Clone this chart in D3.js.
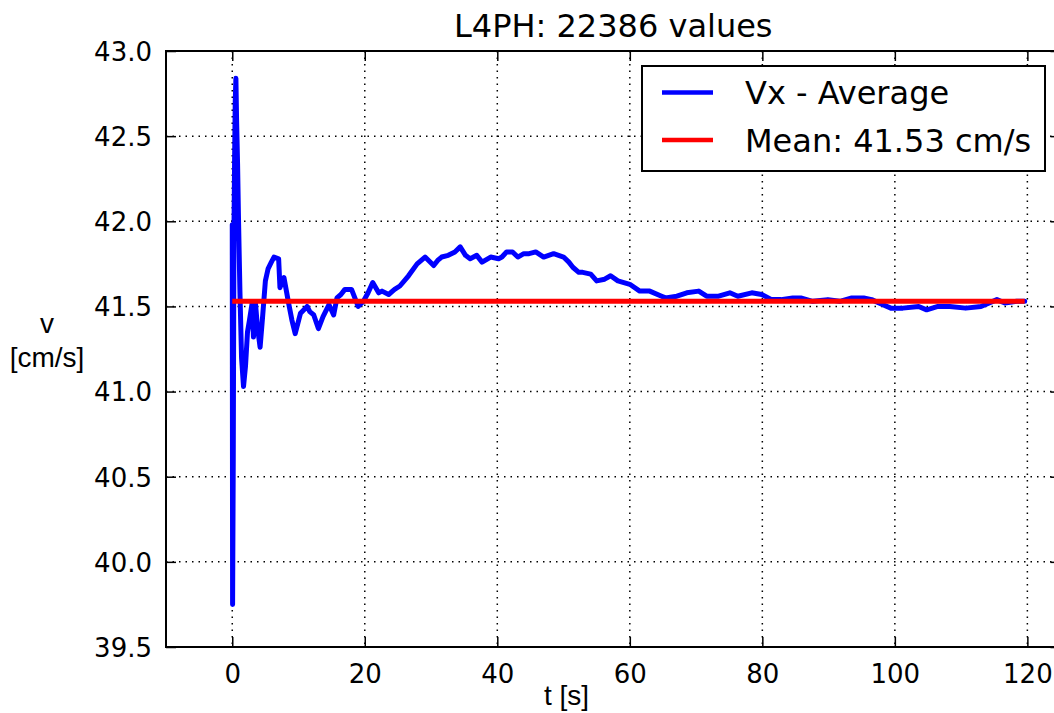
<!DOCTYPE html>
<html>
<head>
<meta charset="utf-8">
<script src="https://cdn.jsdelivr.net/npm/d3@7"></script>
<style>
  html, body { margin: 0; padding: 0; background: #fff; }
  svg { display: block; }
</style>
</head>
<body>
<svg id="chart" width="1054" height="713"></svg>
<script>
// Running average of Vx over time (seconds, cm/s)
const timeS = [
  0, 0.05, 0.15, 0.25, 0.35, 0.45, 0.55, 0.65, 0.8, 0.95,
  1.15, 1.4, 1.7, 2.0, 2.3, 2.6, 3.0, 3.2, 3.5, 3.8,
  4.2, 4.6, 5.0, 5.4, 5.9, 6.3, 7.0, 7.2, 7.8, 8.5,
  9.0, 9.5, 10.3, 11.3, 11.7, 12.3, 13.0, 13.7, 14.6, 15.3,
  15.8, 16.4, 17.0, 18.0, 18.5, 19.0, 19.8, 20.5, 21.2, 22.1,
  22.6, 23.6, 24.5, 25.3, 26.6, 27.9, 29.1, 30.4, 31.0, 31.6,
  32.6, 33.6, 34.4, 35.2, 35.9, 36.9, 37.7, 39.0, 40.2, 40.7,
  41.4, 42.3, 43.1, 44.0, 44.8, 45.8, 47.0, 48.5, 50.0, 50.8,
  51.4, 52.3, 52.9, 54.1, 55.0, 56.2, 57.1, 58.2, 60.0, 61.5,
  63.0, 64.8, 65.4, 67.1, 68.6, 70.4, 71.6, 73.4, 75.1, 76.3,
  78.4, 79.9, 81.4, 82.8, 84.6, 85.8, 87.6, 89.9, 91.7, 93.5,
  95.3, 96.5, 98.2, 99.4, 101.2, 103.6, 104.8, 106.5, 108.3, 110.7,
  113.0, 115.4, 116.6, 118.4, 119.6
];
const vxAverage = [
  41.98, 39.75, 40.6, 41.9, 42.35, 42.7, 42.84, 42.6, 42.34, 42.0,
  41.6, 41.2, 41.03, 41.15, 41.35, 41.42, 41.52, 41.32, 41.52, 41.38,
  41.26, 41.45, 41.65, 41.72, 41.76, 41.79, 41.78, 41.61, 41.67, 41.52,
  41.42, 41.34, 41.46, 41.50, 41.47, 41.45, 41.37, 41.44, 41.51, 41.45,
  41.55, 41.57, 41.60, 41.60, 41.55, 41.50, 41.53, 41.58, 41.64, 41.58,
  41.59, 41.57, 41.60, 41.62, 41.68, 41.75, 41.79, 41.74, 41.77, 41.79,
  41.80, 41.82, 41.85, 41.80, 41.78, 41.80, 41.76, 41.79, 41.78, 41.79,
  41.82, 41.82, 41.79, 41.81, 41.81, 41.82, 41.79, 41.81, 41.79, 41.76,
  41.73, 41.70, 41.70, 41.69, 41.65, 41.66, 41.68, 41.65, 41.63, 41.59,
  41.59, 41.56, 41.55, 41.56, 41.58, 41.59, 41.56, 41.56, 41.58, 41.56,
  41.58, 41.57, 41.54, 41.54, 41.55, 41.55, 41.53, 41.54, 41.53, 41.55,
  41.55, 41.54, 41.51, 41.49, 41.49, 41.50, 41.48, 41.50, 41.50, 41.49,
  41.50, 41.54, 41.52, 41.53, 41.53
];
const meanValue = 41.53;
const meanSpan = [0, 119.6];

const xTicks = [0, 20, 40, 60, 80, 100, 120];
const yTicks = [39.5, 40.0, 40.5, 41.0, 41.5, 42.0, 42.5, 43.0];
const xDomain = [-10, 125];
const yDomain = [39.5, 43.0];

const titleText = "L4PH: 22386 values";
const xLabel = "t [s]";
const yLabelLines = ["v", "[cm/s]"];
const legendLabels = ["Vx - Average", "Mean: " + meanValue.toFixed(2) + " cm/s"];
const legendColors = ["#0000ff", "#ff0000"];

const svg = d3.select("#chart");
const margin = { left: 166, top: 51 };
const plotW = 1060.5 - margin.left;
const plotH = 647 - margin.top;

const x = d3.scaleLinear().domain(xDomain).range([margin.left, margin.left + plotW]);
const y = d3.scaleLinear().domain(yDomain).range([margin.top + plotH, margin.top]);

const tickFont = "'DejaVu Sans', sans-serif";

// dotted grid
const grid = svg.append("g").attr("stroke", "#000").attr("stroke-width", 1.5)
  .attr("stroke-dasharray", "1.5 5");
grid.selectAll("line.vx").data(xTicks).join("line")
  .attr("x1", d => x(d)).attr("x2", d => x(d))
  .attr("y1", margin.top).attr("y2", margin.top + plotH);
grid.selectAll("line.hy").data(yTicks.filter(d => d > yDomain[0] && d < yDomain[1])).join("line")
  .attr("class", "hy")
  .attr("x1", margin.left).attr("x2", margin.left + plotW)
  .attr("y1", d => y(d)).attr("y2", d => y(d));

// data lines
const line = d3.line().x((d, i) => x(timeS[i])).y(d => y(d));
svg.append("path")
  .datum(vxAverage)
  .attr("d", line)
  .attr("fill", "none")
  .attr("stroke", legendColors[0])
  .attr("stroke-width", 5)
  .attr("stroke-linejoin", "round")
  .attr("stroke-linecap", "round");

svg.append("line")
  .attr("x1", x(meanSpan[0])).attr("x2", x(meanSpan[1]))
  .attr("y1", y(meanValue)).attr("y2", y(meanValue))
  .attr("stroke", legendColors[1])
  .attr("stroke-width", 5);

// axes with inward ticks
const xAxisBottom = d3.axisBottom(x).tickValues(xTicks).tickSizeInner(-10).tickSizeOuter(0)
  .tickPadding(16).tickFormat(d3.format("d"));
const gxb = svg.append("g").attr("transform", `translate(0,${margin.top + plotH})`).call(xAxisBottom);
const xAxisTop = d3.axisTop(x).tickValues(xTicks).tickSizeInner(-10).tickSizeOuter(0).tickFormat("");
const gxt = svg.append("g").attr("transform", `translate(0,${margin.top})`).call(xAxisTop);
const yAxisLeft = d3.axisLeft(y).tickValues(yTicks).tickSizeInner(-10).tickSizeOuter(0)
  .tickPadding(14).tickFormat(d3.format(".1f"));
const gyl = svg.append("g").attr("transform", `translate(${margin.left},0)`).call(yAxisLeft);
const yAxisRight = d3.axisRight(y).tickValues(yTicks).tickSizeInner(-10).tickSizeOuter(0).tickFormat("");
const gyr = svg.append("g").attr("transform", `translate(${margin.left + plotW},0)`).call(yAxisRight);

[gxb, gxt, gyl, gyr].forEach(g => {
  g.select(".domain").remove();
  g.selectAll(".tick line").attr("stroke", "#000").attr("stroke-width", 1.5);
  g.selectAll(".tick text").attr("fill", "#000").attr("font-family", tickFont).attr("font-size", 26);
});
gxb.selectAll(".tick text").attr("dy", "0.78em");
gyl.selectAll(".tick text").attr("dy", "0.36em");

// frame
svg.append("rect")
  .attr("x", margin.left).attr("y", margin.top)
  .attr("width", plotW).attr("height", plotH)
  .attr("fill", "none").attr("stroke", "#000").attr("stroke-width", 2);

// title and labels
svg.append("text")
  .attr("x", margin.left + plotW / 2).attr("y", 37)
  .attr("text-anchor", "middle")
  .attr("font-family", tickFont).attr("font-size", 32)
  .text(titleText);

svg.append("text")
  .attr("x", 566.5).attr("y", 705)
  .attr("text-anchor", "middle")
  .attr("font-family", "'Liberation Sans', Arial, sans-serif").attr("font-size", 28)
  .text(xLabel);

svg.append("text")
  .attr("text-anchor", "middle")
  .attr("font-family", "'Liberation Sans', Arial, sans-serif").attr("font-size", 28)
  .selectAll("tspan").data(yLabelLines).join("tspan")
  .attr("x", 47).attr("y", (d, i) => 333 + i * 34)
  .text(d => d);

// legend
const legend = svg.append("g");
legend.append("rect")
  .attr("x", 642).attr("y", 66).attr("width", 403).attr("height", 105)
  .attr("fill", "#fff").attr("stroke", "#000").attr("stroke-width", 2);
const items = legend.selectAll("g.item").data(legendLabels).join("g")
  .attr("transform", (d, i) => `translate(0,${92.5 + i * 47.5})`);
items.append("line")
  .attr("x1", 662).attr("x2", 713).attr("y1", 0).attr("y2", 0)
  .attr("stroke", (d, i) => legendColors[i]).attr("stroke-width", 4.5);
items.append("text")
  .attr("x", 745).attr("y", 0).attr("dy", "0.36em")
  .attr("font-family", tickFont).attr("font-size", 32)
  .text(d => d);
</script>
</body>
</html>
